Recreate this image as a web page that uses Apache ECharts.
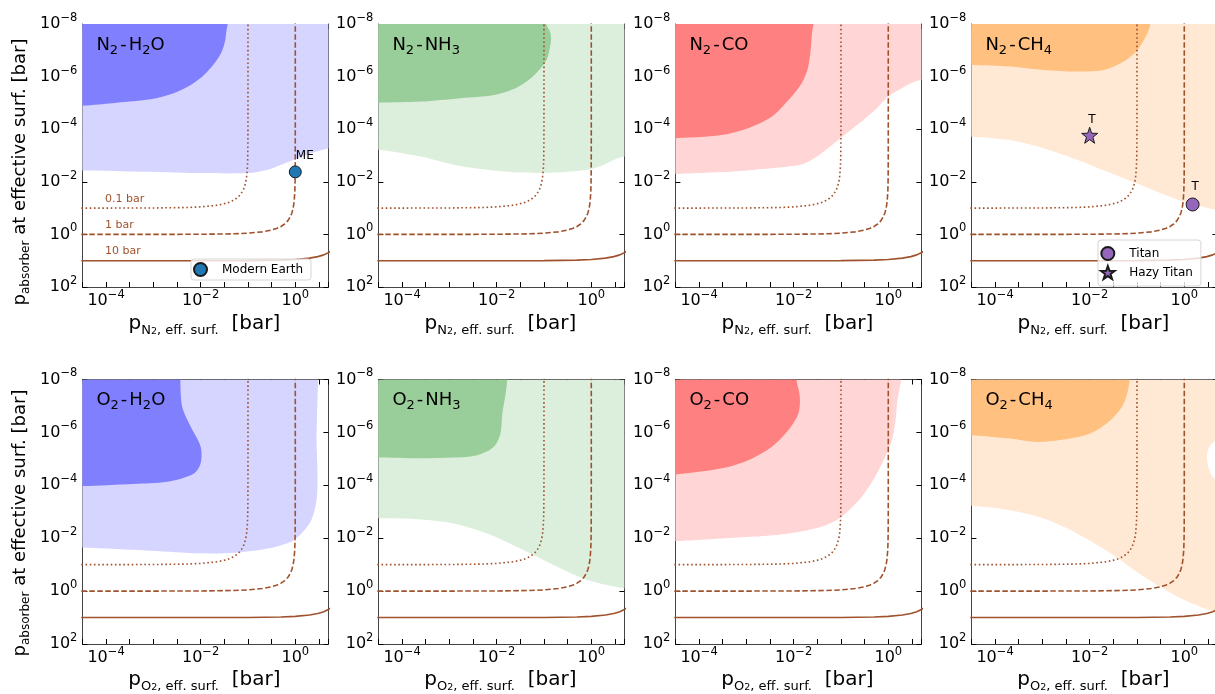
<!DOCTYPE html>
<html><head><meta charset="utf-8">
<script src="https://cdn.jsdelivr.net/npm/echarts@6/dist/echarts.min.js"></script>
<style>html,body{margin:0;padding:0;background:#fff}#c{width:1215px;height:694px}</style>
</head><body><div id="c"></div>
<script>
// ================= DATA =================
const panelTitles = ['N₂-H₂O', 'N₂-NH₃', 'N₂-CO', 'N₂-CH₄', 'O₂-H₂O', 'O₂-NH₃', 'O₂-CO', 'O₂-CH₄'];
const bgGasNames = ['N', 'N', 'N', 'N', 'O', 'O', 'O', 'O'];
const absorberKeys = ['H2O', 'NH3', 'CO', 'CH4', 'H2O', 'NH3', 'CO', 'CH4'];
const xTickExponents = [-4, -2, 0];          // labelled x ticks (log10 bar)
const yTickExponents = [-8, -6, -4, -2, 0, 2]; // labelled y ticks (log10 bar)
const isobarLabels = ['0.1 bar', '1 bar', '10 bar'];

// isobars: p_background (bar) vs p_absorber (bar)
const iso01_bg  = [3e-5, 1e-4, 1e-3, 0.005, 0.01, 0.02, 0.03, 0.04, 0.05, 0.06, 0.07, 0.08, 0.085, 0.09, 0.093, 0.095, 0.097, 0.098, 0.099, 0.0995, 0.0999, 0.09999, 0.099999, 0.0999999, 0.09999999, 0.099999999];
const iso01_abs = [0.09997, 0.0999, 0.099, 0.095, 0.09, 0.08, 0.07, 0.06, 0.05, 0.04, 0.03, 0.02, 0.015, 0.01, 0.007, 0.005, 0.003, 0.002, 0.001, 5e-4, 1e-4, 1e-5, 1e-6, 1e-7, 1e-8, 1e-9];
const iso1_bg  = [3e-5, 1e-4, 1e-3, 0.01, 0.05, 0.1, 0.2, 0.3, 0.4, 0.5, 0.6, 0.7, 0.8, 0.85, 0.9, 0.93, 0.95, 0.97, 0.98, 0.99, 0.995, 0.999, 0.9999, 0.99999, 0.999999, 0.9999999, 0.99999999, 0.999999999];
const iso1_abs = [0.99997, 0.9999, 0.999, 0.99, 0.95, 0.9, 0.8, 0.7, 0.6, 0.5, 0.4, 0.3, 0.2, 0.15, 0.1, 0.07, 0.05, 0.03, 0.02, 0.01, 0.005, 0.001, 1e-4, 1e-5, 1e-6, 1e-7, 1e-8, 1e-9];
const iso10_bg  = [3e-5, 1e-3, 0.1, 0.5, 1, 2, 3, 4, 5, 6];
const iso10_abs = [10, 10, 9.9, 9.5, 9, 8, 7, 6, 5, 4];

// detectability regions: polygon vertices [log10 p_bg, log10 p_abs]
const strong_N2H2O = [[-5,-9],[-1.47,-9],[-1.47,-7.52],[-1.54,-7.01],[-1.68,-6.57],[-1.93,-6.06],[-2.21,-5.68],[-2.57,-5.37],[-3.06,-5.14],[-3.77,-5.01],[-4.53,-4.89],[-5,-4.87]];
const weak_N2H2O   = [[-5,-9],[1,-9],[1,-3.3],[0.73,-3.28],[0.34,-3.09],[0,-2.86],[-0.30,-2.65],[-0.58,-2.46],[-1.01,-2.33],[-2.0,-2.33],[-3.42,-2.39],[-4.53,-2.43],[-5,-2.43]];
const strong_N2NH3 = [[-5,-9],[-0.95,-9],[-0.95,-8],[-0.87,-7.7],[-0.85,-7.39],[-0.93,-6.70],[-1.07,-6.32],[-1.28,-5.94],[-1.57,-5.59],[-2.06,-5.30],[-2.77,-5.18],[-3.61,-5.05],[-4.52,-5.01],[-5,-5.01]];
const weak_N2NH3   = [[-5,-9],[1,-9],[1,-2.96],[0.71,-2.96],[0.48,-2.84],[0.27,-2.65],[-0.08,-2.46],[-0.79,-2.35],[-1.50,-2.35],[-2.20,-2.46],[-2.91,-2.65],[-3.61,-2.96],[-4.52,-3.22],[-5,-3.22]];
const strong_N2CO  = [[-5,-9],[-1.62,-9],[-1.62,-7.52],[-1.69,-6.38],[-1.83,-5.75],[-2.11,-5.11],[-2.46,-4.48],[-2.96,-4.04],[-3.52,-3.78],[-4.23,-3.68],[-4.49,-3.66],[-5,-3.66]];
const weak_N2CO    = [[-5,-9],[1,-9],[1,-5.9],[0.72,-5.87],[0.56,-5.81],[0.35,-5.62],[0,-5.24],[-0.28,-4.73],[-0.70,-4.10],[-1.06,-3.59],[-1.41,-3.09],[-1.76,-2.71],[-2.11,-2.58],[-2.82,-2.46],[-3.52,-2.37],[-4.49,-2.30],[-5,-2.30]];
const strong_N2CH4 = [[-5,-9],[-0.72,-9],[-0.72,-8],[-0.78,-7.65],[-0.99,-7.01],[-1.28,-6.57],[-1.70,-6.25],[-2.27,-6.19],[-2.98,-6.25],[-3.69,-6.38],[-4.54,-6.44],[-5,-6.44]];
const weak_N2CH4   = [[-5,-9],[1,-9],[1,-0.9],[0.67,-0.94],[0.21,-1.13],[-0.14,-1.32],[-0.85,-1.82],[-1.56,-2.33],[-2.27,-2.84],[-2.98,-3.28],[-3.69,-3.59],[-4.54,-3.72],[-5,-3.72]];
const strong_O2H2O = [[-5,-9],[-2.43,-9],[-2.43,-8],[-2.39,-6.97],[-2.21,-6.21],[-2.0,-5.46],[-2.0,-4.83],[-2.14,-4.45],[-2.71,-4.13],[-3.42,-4.05],[-4.53,-3.97],[-5,-3.97]];
const weak_O2H2O   = [[-5,-9],[0.48,-9],[0.48,-8],[0.45,-5.71],[0.47,-4.45],[0.45,-3.44],[0.34,-2.69],[0.13,-2.18],[-0.09,-1.87],[-0.58,-1.61],[-1.29,-1.45],[-2.0,-1.43],[-3.06,-1.53],[-4.53,-1.65],[-5,-1.65]];
const strong_O2NH3 = [[-5,-9],[-1.78,-9],[-1.78,-8],[-1.81,-7.47],[-1.88,-6.72],[-1.92,-5.96],[-2.06,-5.46],[-2.41,-5.14],[-2.91,-5.05],[-3.61,-5.02],[-4.52,-5.05],[-5,-5.05]];
const weak_O2NH3   = [[-5,-9],[1,-9],[1,-0.10],[0.71,-0.10],[-0.08,-0.42],[-0.79,-0.98],[-1.50,-1.61],[-2.20,-2.18],[-2.91,-2.56],[-3.61,-2.71],[-4.52,-2.75],[-5,-2.75]];
const strong_O2CO  = [[-5,-9],[-1.94,-9],[-1.94,-8],[-1.87,-7.35],[-1.90,-6.71],[-2.11,-6.09],[-2.46,-5.46],[-2.96,-4.95],[-3.52,-4.64],[-4.49,-4.41],[-5,-4.41]];
const weak_O2CO    = [[-5,-9],[0.18,-9],[0.18,-6.97],[0.11,-5.96],[0,-5.33],[-0.28,-4.32],[-0.56,-3.57],[-0.99,-2.81],[-1.41,-2.43],[-2.11,-2.18],[-2.82,-2.06],[-3.52,-1.99],[-4.49,-1.89],[-5,-1.89]];
const strong_O2CH4 = [[-5,-9],[-1.15,-9],[-1.15,-8],[-1.28,-7.09],[-1.56,-6.46],[-1.99,-5.96],[-2.62,-5.71],[-3.12,-5.64],[-3.69,-5.77],[-4.54,-5.90],[-5,-5.90]];
const weak_O2CH4   = [[-5,-9],[1,-9],[1,-5.9],[0.67,-5.71],[0.53,-5.46],[0.48,-5.08],[0.53,-4.57],[0.67,-4.20],[1,-4.1],[1,0.8],[0.67,0.78],[0.43,0.65],[-0.14,0.21],[-0.85,-0.54],[-1.56,-1.43],[-2.27,-2.18],[-2.98,-2.75],[-3.69,-3.06],[-4.54,-3.23],[-5,-3.23]];

// reference planets: [p_bg (bar), p_abs (bar)]
const modernEarth = [1.0, 4.2e-3];
const titan = [1.5, 7.3e-2];
const hazyTitan = [1.0e-2, 1.7e-4];

// ================= STYLE / LAYOUT =================
const strongRegions = [strong_N2H2O, strong_N2NH3, strong_N2CO, strong_N2CH4, strong_O2H2O, strong_O2NH3, strong_O2CO, strong_O2CH4];
const weakRegions = [weak_N2H2O, weak_N2NH3, weak_N2CO, weak_N2CH4, weak_O2H2O, weak_O2NH3, weak_O2CO, weak_O2CH4];
const darkColor = {H2O: '#8080ff', NH3: '#99cd99', CO: '#ff8080', CH4: '#ffc080'};
const lightColor = {H2O: '#d5d5ff', NH3: '#dcefdc', CO: '#ffd5d5', CH4: '#ffe9d5'};
const isoColor = '#a0522d';
const lefts = [82.4, 378.4, 675.4, 971.4];
const tops = [24, 379.5];
const heights = [263, 264.5];
const W = 246;
const FF = 'DejaVu Sans';
const L10 = Math.log10;
const pairs = (xs, ys) => xs.map((x, k) => [L10(x), L10(ys[k])]);

const supMap = e => (e < 0 ? '−' + (-e) : String(e));
const tickRich = {
  n: {fontSize: 16, fontFamily: FF, color: '#000', lineHeight: 24},
  e: {fontSize: 11.5, fontFamily: FF, color: '#000', lineHeight: 12, verticalAlign: 'top'}
};
function xFmt(v) {
  const r = Math.round(v);
  if (Math.abs(v - r) > 1e-6 || xTickExponents.indexOf(r) < 0) return '';
  return '{n|10}{e|' + supMap(r) + '}';
}
function yFmt(v) {
  const r = Math.round(v);
  if (Math.abs(v - r) > 1e-6 || yTickExponents.indexOf(r) < 0) return '';
  return '{n|10}{e|' + supMap(r) + '}';
}
// turn 'N₂-H₂O' into rich text with real subscript tokens
const subDigits = {'₂': '2', '₃': '3', '₄': '4'};
function titleRich(t) {
  let out = '';
  for (const ch of t) {
    if (subDigits[ch]) out += '{s|' + subDigits[ch] + '}';
    else if (ch === '-') out += '{d|-}';
    else out += '{m|' + ch + '}';
  }
  return out;
}
const titleRichStyle = {
  m: {fontSize: 18, fontFamily: FF, fill: '#000', lineHeight: 24},
  d: {fontSize: 18, fontFamily: FF, fill: '#000', lineHeight: 24, padding: [0, 2, 0, 2]},
  s: {fontSize: 13, fontFamily: FF, fill: '#000', lineHeight: 15, verticalAlign: 'bottom'}
};

const option = {animation: false, textStyle: {fontFamily: FF}, grid: [], xAxis: [], yAxis: [], series: [], graphic: [], legend: []};
const frame = {show: true, onZero: false, lineStyle: {color: '#444', width: 1}};
const tick = {show: true, inside: true, length: 5, lineStyle: {color: '#000', width: 1}};

for (let i = 0; i < 8; i++) {
  const row = i < 4 ? 0 : 1, col = i % 4;
  option.grid.push({left: lefts[col], top: tops[row], width: W, height: heights[row], outerBoundsMode: 'none', containLabel: false});
  const xBase = {type: 'value', gridIndex: i, min: -4.5, max: 0.7, interval: 0.5, axisLine: frame, axisTick: tick, splitLine: {show: false}};
  option.xAxis.push(Object.assign({}, xBase, {position: 'bottom', axisLabel: {show: true, margin: 2, formatter: xFmt, rich: tickRich, showMinLabel: true, showMaxLabel: true}}));
  option.xAxis.push(Object.assign({}, xBase, {position: 'top', axisLabel: {show: false}}));
  const yBase = {type: 'value', gridIndex: i, min: -8, max: 2, interval: 2, inverse: true, axisLine: frame, axisTick: tick, splitLine: {show: false}};
  option.yAxis.push(Object.assign({}, yBase, {position: 'left', axisLabel: {show: true, margin: 5, formatter: yFmt, rich: tickRich}}));
  option.yAxis.push(Object.assign({}, yBase, {position: 'right', axisLabel: {show: false}}));

  const polySeries = (pts, color, z) => ({
    type: 'custom', xAxisIndex: 2 * i, yAxisIndex: 2 * i, data: [[0, 0]], silent: true, z: z, clip: true,
    renderItem: (params, api) => {
      const cs = params.coordSys;
      return {type: 'polygon', shape: {points: pts.map(p => api.coord(p)), smooth: 0.3},
        style: {fill: color, stroke: null},
        clipPath: {type: 'rect', shape: {x: cs.x, y: cs.y, width: cs.width, height: cs.height}}};
    }
  });
  option.series.push(polySeries(weakRegions[i], lightColor[absorberKeys[i]], 1));
  option.series.push(polySeries(strongRegions[i], darkColor[absorberKeys[i]], 2));

  const isoSeries = (data, type) => ({
    type: 'line', xAxisIndex: 2 * i, yAxisIndex: 2 * i, data: data, symbol: 'none', silent: true, z: 3, clip: true,
    lineStyle: {color: isoColor, width: 1.6, type: type}
  });
  option.series.push(isoSeries(pairs(iso01_bg, iso01_abs), [1.6, 2.6]));
  option.series.push(isoSeries(pairs(iso1_bg, iso1_abs), [5.5, 2.5]));
  option.series.push(isoSeries(pairs(iso10_bg, iso10_abs), 'solid'));

  // panel title
  option.graphic.push({type: 'text', x: lefts[col] + 14, y: tops[row] + 21, z: 10,
    style: {text: titleRich(panelTitles[i]), align: 'left', verticalAlign: 'middle', rich: titleRichStyle}});
  // x axis name
  option.graphic.push({type: 'text', x: lefts[col] + W / 2 - 1, y: row === 0 ? 324 : 680, z: 10,
    style: {text: '{p|p}{s|' + bgGasNames[i] + '}{ss|2}{s|, eff. surf.}{t|  [bar]}', align: 'center', verticalAlign: 'middle',
      rich: {p: {fontSize: 20, fontFamily: FF, fill: '#000', lineHeight: 26},
             s: {fontSize: 13, fontFamily: FF, fill: '#000', lineHeight: 14, verticalAlign: 'bottom'},
             ss: {fontSize: 9.5, fontFamily: FF, fill: '#000', lineHeight: 10, verticalAlign: 'bottom'},
             t: {fontSize: 20, fontFamily: FF, fill: '#000', lineHeight: 26}}}});
}

// y axis names
[172, 523].forEach(cy => {
  option.graphic.push({type: 'text', x: 20, y: cy, rotation: Math.PI / 2, z: 10,
    style: {text: '{p|p}{s|absorber}{t| at effective surf. [bar]}', align: 'center', verticalAlign: 'middle',
      rich: {p: {fontSize: 18, fontFamily: FF, fill: '#000', lineHeight: 24},
             s: {fontSize: 12, fontFamily: FF, fill: '#000', lineHeight: 12, verticalAlign: 'bottom'},
             t: {fontSize: 18, fontFamily: FF, fill: '#000', lineHeight: 24}}}});
});

// isobar labels in first panel
[[199.5, 0], [225.5, 1], [251.5, 2]].forEach(([y, k]) => {
  option.graphic.push({type: 'text', x: 105, y: y, z: 10,
    style: {text: isobarLabels[k], fontSize: 11, fontFamily: FF, fill: isoColor, align: 'left', verticalAlign: 'middle'}});
});

// reference points
const starPath = 'path://M0,-10 L2.35,-3.24 L9.51,-3.09 L3.8,1.24 L5.88,8.09 L0,4 L-5.88,8.09 L-3.8,1.24 L-9.51,-3.09 L-2.35,-3.24 Z';
option.series.push({type: 'scatter', name: 'Modern Earth', xAxisIndex: 0, yAxisIndex: 0, z: 6,
  data: [[L10(modernEarth[0]), L10(modernEarth[1])]], symbol: 'circle', symbolSize: 12,
  itemStyle: {color: '#1f77b4', borderColor: '#1a1a1a', borderWidth: 1, opacity: 1},
  label: {show: true, formatter: 'ME', position: [7, -16], fontSize: 12, fontFamily: FF, color: '#000'}});
option.series.push({type: 'scatter', name: 'Titan', xAxisIndex: 6, yAxisIndex: 6, z: 6,
  data: [[L10(titan[0]), L10(titan[1])]], symbol: 'circle', symbolSize: 13,
  itemStyle: {color: '#9467bd', borderColor: '#1a1a1a', borderWidth: 1, opacity: 1},
  label: {show: true, formatter: 'T', position: [6, -17], fontSize: 12, fontFamily: FF, color: '#000'}});
option.series.push({type: 'scatter', name: 'Hazy Titan', xAxisIndex: 6, yAxisIndex: 6, z: 6,
  data: [[L10(hazyTitan[0]), L10(hazyTitan[1])]], symbol: starPath, symbolSize: 16,
  itemStyle: {color: '#9467bd', borderColor: '#1a1a1a', borderWidth: 1, opacity: 1},
  label: {show: true, formatter: 'T', position: [7, -13], fontSize: 12, fontFamily: FF, color: '#000'}});

const legendBase = {selectedMode: false, itemWidth: 33, itemHeight: 13, borderColor: '#d6d6d6', borderWidth: 1, borderRadius: 3,
  backgroundColor: 'rgba(255,255,255,0.8)', textStyle: {fontSize: 12, fontFamily: FF, color: '#000'}, z: 20};
option.legend.push(Object.assign({}, legendBase, {data: ['Modern Earth'], left: 191, top: 259, padding: [3, 8, 3, 2]}));
option.legend.push(Object.assign({}, legendBase, {data: ['Titan', 'Hazy Titan'], orient: 'vertical', left: 1098, top: 240, itemGap: 4, padding: [6, 8, 6, 2]}));

const chart = echarts.init(document.getElementById('c'), null, {renderer: 'canvas', width: 1215, height: 694});
chart.setOption(option);
</script></body></html>
